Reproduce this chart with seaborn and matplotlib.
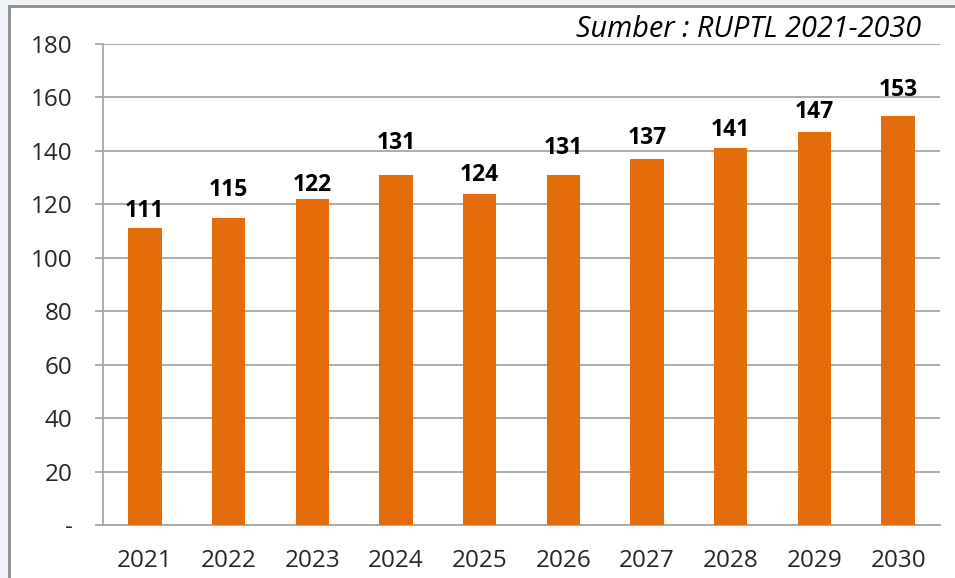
import matplotlib
matplotlib.use("Agg")
import matplotlib.pyplot as plt
import seaborn as sns
from matplotlib.patches import Rectangle
from matplotlib.ticker import FixedLocator

# data
years = ["2021", "2022", "2023", "2024", "2025", "2026", "2027", "2028", "2029", "2030"]
values = [111, 115, 122, 131, 124, 131, 137, 141, 147, 153]
y_ticks = [0, 20, 40, 60, 80, 100, 120, 140, 160, 180]
y_tick_labels = ["-", "20", "40", "60", "80", "100", "120", "140", "160", "180"]
source_text = "Sumber : RUPTL 2021-2030"

# label lift above bar top (points), labels were hand placed in the original
label_lift = [8.4, 15.6, 5.5, 18.5, 9.1, 15.1, 10.8, 8.9, 10.3, 14.4]

sns.set_style("white")
plt.rcParams["font.family"] = ["Open Sans", "DejaVu Sans"]

bar_color = "#E46C0A"
grid_color = "#A6A6A6"
text_color = "#262626"

fig = plt.figure(figsize=(9.55, 5.78), dpi=100)
fig.patch.set_facecolor("#EEF1F5")
# white chart frame, only top and left edges visible in the screenshot
frame = Rectangle((9 / 955, -0.05), 1.1, 1 - 6 / 578 + 0.05, transform=fig.transFigure,
                  facecolor="white", edgecolor="#8C8C8C", linewidth=2, zorder=-10)
fig.patches.append(frame)

ax = fig.add_axes([103 / 955, 1 - 525 / 578, (940 - 103) / 955, (525 - 44) / 578])
ax.set_facecolor("none")

sns.barplot(x=years, y=values, color=bar_color, width=0.4, saturation=1,
            linewidth=0, ax=ax, zorder=3)

ax.set_ylim(0, 180)
ax.set_xlim(-0.5, len(years) - 0.5)
ax.set_yticks(y_ticks)
ax.set_yticklabels(y_tick_labels)
ax.yaxis.grid(True, color=grid_color, linewidth=1.3, zorder=0)
ax.set_axisbelow(True)

# ticks between categories on x
ax.xaxis.set_minor_locator(FixedLocator([i - 0.5 for i in range(len(years) + 1)]))
ax.tick_params(axis="x", which="major", length=0, pad=17, labelsize=17.5, labelcolor=text_color)
ax.tick_params(axis="x", which="minor", length=6, width=1.3, color=grid_color, direction="out")
ax.tick_params(axis="y", length=6, width=1.3, color=grid_color, pad=16, labelsize=17.5,
               labelcolor=text_color, left=True)

for side in ["top", "right"]:
    ax.spines[side].set_visible(False)
for side in ["left", "bottom"]:
    ax.spines[side].set_color(grid_color)
    ax.spines[side].set_linewidth(1.3)

ax.set_xlabel("")
ax.set_ylabel("")

for i, (v, lift) in enumerate(zip(values, label_lift)):
    ax.annotate(str(v), xy=(i, v), xytext=(0, lift), textcoords="offset points",
                ha="center", va="baseline", fontsize=16.5, fontweight="bold", color="black")

fig.text(921 / 955, 1 - 37 / 578, source_text, ha="right", va="baseline",
         fontsize=20.8, fontstyle="italic", color="black")

fig.savefig("out.png", dpi=100)
